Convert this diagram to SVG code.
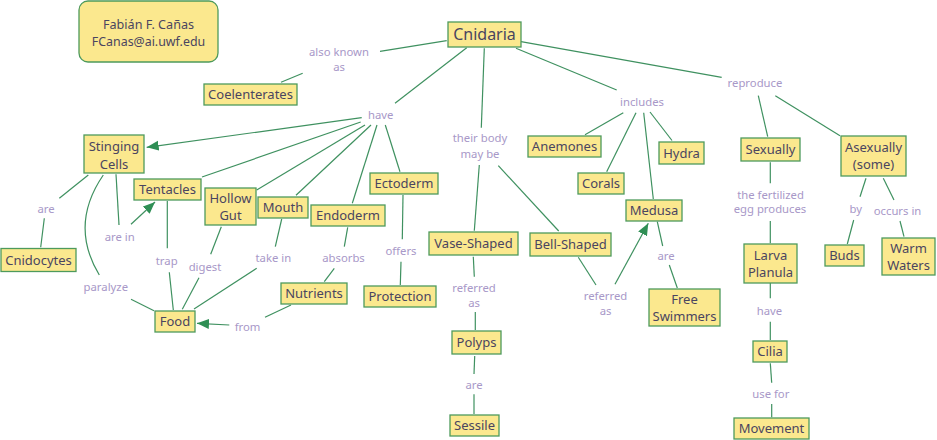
<svg xmlns="http://www.w3.org/2000/svg" width="937" height="440" viewBox="0 0 937 440">
<style>
.n rect{fill:#fbe88e;stroke:#4e9a5c;stroke-width:1.3}
.n text{font-family:"Noto Sans","DejaVu Sans",sans-serif;font-size:13px;fill:#4a4560;text-anchor:middle}
.l{font-family:"Noto Sans","DejaVu Sans",sans-serif;font-size:11.3px;fill:#a898c8;text-anchor:middle}
.c line,.c path{stroke:#3f9160;stroke-width:1.2;fill:none}
</style>
<defs>
<marker id="ah" markerUnits="userSpaceOnUse" markerWidth="14" markerHeight="12" refX="12" refY="5" orient="auto">
<path d="M0,0 L12,5 L0,10 Z" fill="#2f8f55"/>
</marker>
</defs>
<rect width="937" height="440" fill="#ffffff"/>
<g id="author" class="n">
<rect x="79" y="1" width="139" height="61" rx="9"/>
<text x="148.5" y="29" style="font-size:12.6px">Fabián F. Cañas</text>
<text x="148.5" y="46" style="font-size:12.4px">FCanas@ai.uwf.edu</text>
</g>
<g class="c">
<line x1="446.7" y1="40.7" x2="380" y2="51.3"/>
<line x1="302.7" y1="73.3" x2="281" y2="82.3"/>
<line x1="466.7" y1="47.7" x2="395" y2="103.3"/>
<line x1="361.7" y1="117.7" x2="146.7" y2="147.3" marker-end="url(#ah)"/>
<line x1="360.7" y1="122" x2="202" y2="177"/>
<line x1="365" y1="125" x2="256.7" y2="190"/>
<line x1="371" y1="125" x2="296" y2="195.3"/>
<line x1="377" y1="125" x2="352.3" y2="203.3"/>
<line x1="385.3" y1="125" x2="400" y2="171.7"/>
<line x1="484.3" y1="48.3" x2="481.3" y2="127.7"/>
<line x1="479.3" y1="165" x2="474.3" y2="230.7"/>
<line x1="498.3" y1="165.7" x2="558.7" y2="231"/>
<line x1="473.3" y1="256.7" x2="474.3" y2="276.7"/>
<line x1="475.3" y1="312" x2="475.3" y2="330"/>
<line x1="474.7" y1="356" x2="474" y2="374"/>
<line x1="474" y1="394.3" x2="474" y2="414"/>
<line x1="578.3" y1="257.3" x2="596" y2="285"/>
<line x1="615" y1="284.3" x2="648.3" y2="223.3" marker-end="url(#ah)"/>
<line x1="657.3" y1="221.7" x2="662.7" y2="246"/>
<line x1="669.3" y1="265" x2="677.3" y2="288"/>
<line x1="516" y1="48.3" x2="616.7" y2="90"/>
<line x1="623.3" y1="112.7" x2="585" y2="134.7"/>
<line x1="636" y1="112.7" x2="606.7" y2="171.7"/>
<line x1="643.7" y1="112.7" x2="653.3" y2="199"/>
<line x1="650" y1="112" x2="672" y2="140.5"/>
<line x1="521" y1="41.7" x2="721.7" y2="77.3"/>
<line x1="758.3" y1="95.7" x2="767.7" y2="136.7"/>
<line x1="775.3" y1="95.7" x2="840" y2="135.7"/>
<line x1="770.3" y1="162.3" x2="770.3" y2="183.3"/>
<line x1="770.3" y1="221" x2="770.3" y2="243.3"/>
<line x1="770.3" y1="283" x2="770.3" y2="298.3"/>
<line x1="770.3" y1="321.7" x2="770.3" y2="340"/>
<line x1="770.3" y1="363.3" x2="771.7" y2="382.7"/>
<line x1="771.7" y1="404" x2="771.7" y2="417.3"/>
<line x1="866" y1="178.3" x2="860" y2="196.7"/>
<line x1="853.7" y1="220" x2="847.3" y2="244"/>
<line x1="883.3" y1="178.3" x2="894" y2="200"/>
<line x1="900" y1="221" x2="904" y2="236.7"/>
<line x1="88.3" y1="175" x2="59.3" y2="198.3"/>
<line x1="44.3" y1="218.3" x2="40.7" y2="247.3"/>
<line x1="116" y1="174.3" x2="119" y2="225"/>
<line x1="131" y1="224.3" x2="155" y2="202" marker-end="url(#ah)"/>
<path d="M103.3,175 Q69,225 99.3,275"/>
<line x1="131" y1="299.3" x2="154" y2="310.7"/>
<line x1="167.3" y1="201" x2="167.3" y2="248.3"/>
<line x1="169.3" y1="272.3" x2="173.3" y2="310"/>
<line x1="221.3" y1="226.7" x2="210.7" y2="254.3"/>
<line x1="199" y1="277.7" x2="182.3" y2="309.3"/>
<line x1="281.7" y1="219" x2="275.3" y2="246.7"/>
<line x1="256.7" y1="268.3" x2="194" y2="309"/>
<line x1="347.7" y1="227.3" x2="344.3" y2="246.7"/>
<line x1="334.3" y1="268.3" x2="324.3" y2="281.7"/>
<line x1="403" y1="195" x2="402.3" y2="239.3"/>
<line x1="401" y1="261.7" x2="400.3" y2="285"/>
<line x1="291" y1="305" x2="265" y2="317.3"/>
<line x1="229.3" y1="325" x2="197" y2="323.3" marker-end="url(#ah)"/>
</g>
<g id="labels">
<text class="l" x="339" y="56.3">also known</text>
<text class="l" x="339" y="70.7">as</text>
<text class="l" x="380.7" y="119.3">have</text>
<text class="l" x="480" y="142">their body</text>
<text class="l" x="480" y="158">may be</text>
<text class="l" x="642" y="106.3">includes</text>
<text class="l" x="755" y="87.3">reproduce</text>
<text class="l" x="46" y="213">are</text>
<text class="l" x="119.7" y="240.7">are in</text>
<text class="l" x="105.8" y="291.3">paralyze</text>
<text class="l" x="166.7" y="264.7">trap</text>
<text class="l" x="205" y="270.7">digest</text>
<text class="l" x="273.3" y="262.3">take in</text>
<text class="l" x="343.5" y="262.3">absorbs</text>
<text class="l" x="401" y="255.3">offers</text>
<text class="l" x="247.5" y="331.3">from</text>
<text class="l" x="474" y="292">referred</text>
<text class="l" x="474" y="306.7">as</text>
<text class="l" x="474" y="389">are</text>
<text class="l" x="605.5" y="300.3">referred</text>
<text class="l" x="605.5" y="314.7">as</text>
<text class="l" x="666" y="259.7">are</text>
<text class="l" x="770.5" y="199">the fertilized</text>
<text class="l" x="770" y="213.3">egg produces</text>
<text class="l" x="855.8" y="213">by</text>
<text class="l" x="897.5" y="215.3">occurs in</text>
<text class="l" x="769.5" y="315.3">have</text>
<text class="l" x="770.8" y="398.3">use for</text>
</g>
<g id="cnidaria" class="n"><rect x="448" y="22" width="73" height="25"/><text x="484.5" y="40" style="font-size:16px">Cnidaria</text></g>
<g id="coelenterates" class="n"><rect x="204" y="84" width="93" height="21"/><text x="250.5" y="99">Coelenterates</text></g>
<g id="stinging-cells" class="n"><rect x="84" y="135" width="60" height="38"/><text x="114" y="151">Stinging</text><text x="114" y="168.5">Cells</text></g>
<g id="tentacles" class="n"><rect x="134" y="179" width="67" height="21"/><text x="167.5" y="194">Tentacles</text></g>
<g id="hollow-gut" class="n"><rect x="205" y="188" width="51" height="37"/><text x="230.5" y="203">Hollow</text><text x="230.5" y="220">Gut</text></g>
<g id="mouth" class="n"><rect x="258" y="197" width="50" height="21"/><text x="283" y="212">Mouth</text></g>
<g id="endoderm" class="n"><rect x="311" y="205" width="74" height="21"/><text x="348" y="220">Endoderm</text></g>
<g id="ectoderm" class="n"><rect x="370" y="173" width="68" height="21"/><text x="404" y="188">Ectoderm</text></g>
<g id="nutrients" class="n"><rect x="281" y="283" width="66" height="21"/><text x="314" y="298">Nutrients</text></g>
<g id="protection" class="n"><rect x="364" y="286" width="72" height="21"/><text x="400" y="301">Protection</text></g>
<g id="food" class="n"><rect x="155" y="311" width="40" height="21"/><text x="175" y="326">Food</text></g>
<g id="cnidocytes" class="n"><rect x="1" y="248.5" width="75" height="23"/><text x="38.5" y="264.5">Cnidocytes</text></g>
<g id="vase-shaped" class="n"><rect x="429" y="232" width="89" height="23"/><text x="473.5" y="248">Vase-Shaped</text></g>
<g id="bell-shaped" class="n"><rect x="530" y="233" width="81" height="23"/><text x="570.5" y="249">Bell-Shaped</text></g>
<g id="anemones" class="n"><rect x="528" y="136" width="73" height="21"/><text x="564.5" y="151">Anemones</text></g>
<g id="hydra" class="n"><rect x="659" y="142" width="45" height="22"/><text x="681.5" y="157.5">Hydra</text></g>
<g id="corals" class="n"><rect x="578" y="173" width="46" height="21"/><text x="601" y="188">Corals</text></g>
<g id="medusa" class="n"><rect x="626" y="200" width="56" height="21"/><text x="654" y="215">Medusa</text></g>
<g id="free-swimmers" class="n"><rect x="649" y="289" width="71" height="37"/><text x="684.5" y="304">Free</text><text x="684.5" y="321">Swimmers</text></g>
<g id="polyps" class="n"><rect x="452" y="331" width="49" height="23"/><text x="476.5" y="347">Polyps</text></g>
<g id="sessile" class="n"><rect x="450" y="415" width="49" height="21"/><text x="474.5" y="430">Sessile</text></g>
<g id="sexually" class="n"><rect x="741" y="138" width="59" height="23"/><text x="770.5" y="154">Sexually</text></g>
<g id="asexually" class="n"><rect x="841" y="136" width="65" height="40"/><text x="873.5" y="151.5">Asexually</text><text x="873.5" y="169">(some)</text></g>
<g id="larva-planula" class="n"><rect x="744" y="244" width="53" height="39"/><text x="770.5" y="259.5">Larva</text><text x="770.5" y="276.5">Planula</text></g>
<g id="buds" class="n"><rect x="825" y="245" width="39" height="21"/><text x="844.5" y="260">Buds</text></g>
<g id="warm-waters" class="n"><rect x="882" y="238" width="53" height="37"/><text x="908.5" y="253">Warm</text><text x="908.5" y="270">Waters</text></g>
<g id="cilia" class="n"><rect x="753" y="341" width="34" height="21"/><text x="770" y="356">Cilia</text></g>
<g id="movement" class="n"><rect x="734" y="418" width="75" height="21"/><text x="771.5" y="433">Movement</text></g>
</svg>
